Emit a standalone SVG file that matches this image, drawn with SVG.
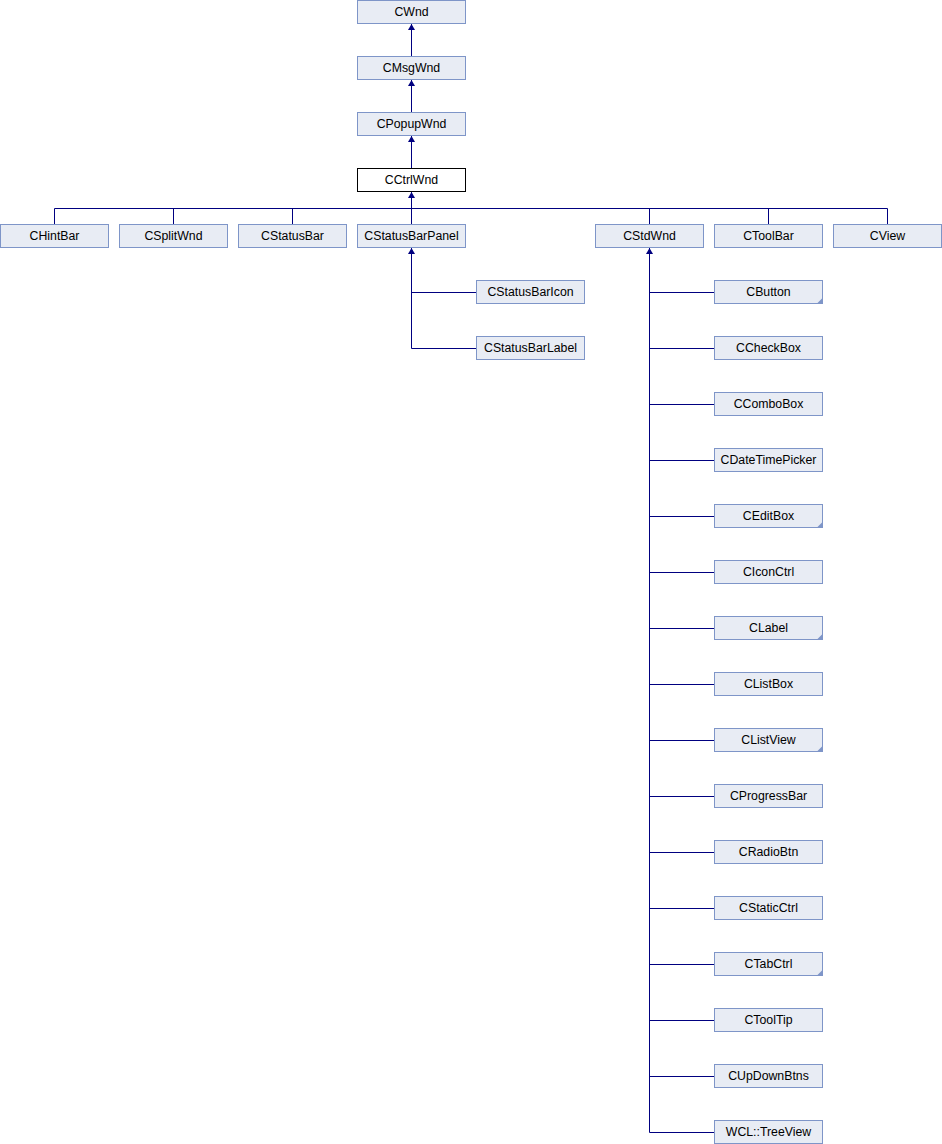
<svg xmlns="http://www.w3.org/2000/svg" xmlns:xlink="http://www.w3.org/1999/xlink" width="942" height="1144" viewBox="0 0 942 1144">
<style>
.n rect{fill:#E8ECF4;stroke:#7E95C8;stroke-width:1}
.n.cur rect{fill:#FFFFFF;stroke:#000000}
.n text{font-family:"Liberation Sans",Arial,sans-serif;font-size:12.3px;fill:#000;text-anchor:middle}
.n polygon{fill:#7E95C8}
#edges path{fill:none;stroke:#000080;stroke-width:1}
#edges use{fill:#000080}
</style>
<defs>
<polygon id="ah" points="0,0 -3.5,6 3.5,6"/>
</defs>
<rect width="942" height="1144" fill="#FFFFFF"/>
<g id="edges">
<path d="M411.5,24 V56 M411.5,80 V112 M411.5,136 V168 M411.5,192 V224"/>
<path d="M54.5,208.5 H887.5 M54.5,208.5 V224 M173.5,208.5 V224 M292.5,208.5 V224 M649.5,208.5 V224 M768.5,208.5 V224 M887.5,208.5 V224"/>
<path d="M411.5,248 V348.5 M411.5,292.5 H476 M411.5,348.5 H476"/>
<path d="M649.5,248 V1132.5 M649.5,292.5 H714 M649.5,348.5 H714 M649.5,404.5 H714 M649.5,460.5 H714 M649.5,516.5 H714 M649.5,572.5 H714 M649.5,628.5 H714 M649.5,684.5 H714 M649.5,740.5 H714 M649.5,796.5 H714 M649.5,852.5 H714 M649.5,908.5 H714 M649.5,964.5 H714 M649.5,1020.5 H714 M649.5,1076.5 H714 M649.5,1132.5 H714"/>
<use xlink:href="#ah" x="411.5" y="24"/>
<use xlink:href="#ah" x="411.5" y="80"/>
<use xlink:href="#ah" x="411.5" y="136"/>
<use xlink:href="#ah" x="411.5" y="192"/>
<use xlink:href="#ah" x="411.5" y="248"/>
<use xlink:href="#ah" x="649.5" y="248"/>
</g>
<g id="CWnd" class="n"><rect x="357.5" y="0.5" width="108" height="23"/><text x="411.5" y="16">CWnd</text></g>
<g id="CMsgWnd" class="n"><rect x="357.5" y="56.5" width="108" height="23"/><text x="411.5" y="72">CMsgWnd</text></g>
<g id="CPopupWnd" class="n"><rect x="357.5" y="112.5" width="108" height="23"/><text x="411.5" y="128">CPopupWnd</text></g>
<g id="CCtrlWnd" class="n cur"><rect x="357.5" y="168.5" width="108" height="23"/><text x="411.5" y="184">CCtrlWnd</text></g>
<g id="CHintBar" class="n"><rect x="0.5" y="224.5" width="108" height="23"/><text x="54.5" y="240">CHintBar</text></g>
<g id="CSplitWnd" class="n"><rect x="119.5" y="224.5" width="108" height="23"/><text x="173.5" y="240">CSplitWnd</text></g>
<g id="CStatusBar" class="n"><rect x="238.5" y="224.5" width="108" height="23"/><text x="292.5" y="240">CStatusBar</text></g>
<g id="CStatusBarPanel" class="n"><rect x="357.5" y="224.5" width="108" height="23"/><text x="411.5" y="240">CStatusBarPanel</text></g>
<g id="CStdWnd" class="n"><rect x="595.5" y="224.5" width="108" height="23"/><text x="649.5" y="240">CStdWnd</text></g>
<g id="CToolBar" class="n"><rect x="714.5" y="224.5" width="108" height="23"/><text x="768.5" y="240">CToolBar</text></g>
<g id="CView" class="n"><rect x="833.5" y="224.5" width="108" height="23"/><text x="887.5" y="240">CView</text></g>
<g id="CStatusBarIcon" class="n"><rect x="476.5" y="280.5" width="108" height="23"/><text x="530.5" y="296">CStatusBarIcon</text></g>
<g id="CStatusBarLabel" class="n"><rect x="476.5" y="336.5" width="108" height="23"/><text x="530.5" y="352">CStatusBarLabel</text></g>
<g id="CButton" class="n"><rect x="714.5" y="280.5" width="108" height="23"/><polygon points="816.5,304 823,297.5 823,304"/><text x="768.5" y="296">CButton</text></g>
<g id="CCheckBox" class="n"><rect x="714.5" y="336.5" width="108" height="23"/><text x="768.5" y="352">CCheckBox</text></g>
<g id="CComboBox" class="n"><rect x="714.5" y="392.5" width="108" height="23"/><text x="768.5" y="408">CComboBox</text></g>
<g id="CDateTimePicker" class="n"><rect x="714.5" y="448.5" width="108" height="23"/><text x="768.5" y="464">CDateTimePicker</text></g>
<g id="CEditBox" class="n"><rect x="714.5" y="504.5" width="108" height="23"/><polygon points="816.5,528 823,521.5 823,528"/><text x="768.5" y="520">CEditBox</text></g>
<g id="CIconCtrl" class="n"><rect x="714.5" y="560.5" width="108" height="23"/><text x="768.5" y="576">CIconCtrl</text></g>
<g id="CLabel" class="n"><rect x="714.5" y="616.5" width="108" height="23"/><polygon points="816.5,640 823,633.5 823,640"/><text x="768.5" y="632">CLabel</text></g>
<g id="CListBox" class="n"><rect x="714.5" y="672.5" width="108" height="23"/><text x="768.5" y="688">CListBox</text></g>
<g id="CListView" class="n"><rect x="714.5" y="728.5" width="108" height="23"/><polygon points="816.5,752 823,745.5 823,752"/><text x="768.5" y="744">CListView</text></g>
<g id="CProgressBar" class="n"><rect x="714.5" y="784.5" width="108" height="23"/><text x="768.5" y="800">CProgressBar</text></g>
<g id="CRadioBtn" class="n"><rect x="714.5" y="840.5" width="108" height="23"/><text x="768.5" y="856">CRadioBtn</text></g>
<g id="CStaticCtrl" class="n"><rect x="714.5" y="896.5" width="108" height="23"/><text x="768.5" y="912">CStaticCtrl</text></g>
<g id="CTabCtrl" class="n"><rect x="714.5" y="952.5" width="108" height="23"/><polygon points="816.5,976 823,969.5 823,976"/><text x="768.5" y="968">CTabCtrl</text></g>
<g id="CToolTip" class="n"><rect x="714.5" y="1008.5" width="108" height="23"/><text x="768.5" y="1024">CToolTip</text></g>
<g id="CUpDownBtns" class="n"><rect x="714.5" y="1064.5" width="108" height="23"/><text x="768.5" y="1080">CUpDownBtns</text></g>
<g id="WCL_TreeView" class="n"><rect x="714.5" y="1120.5" width="108" height="23"/><text x="768.5" y="1136">WCL::TreeView</text></g>
</svg>
